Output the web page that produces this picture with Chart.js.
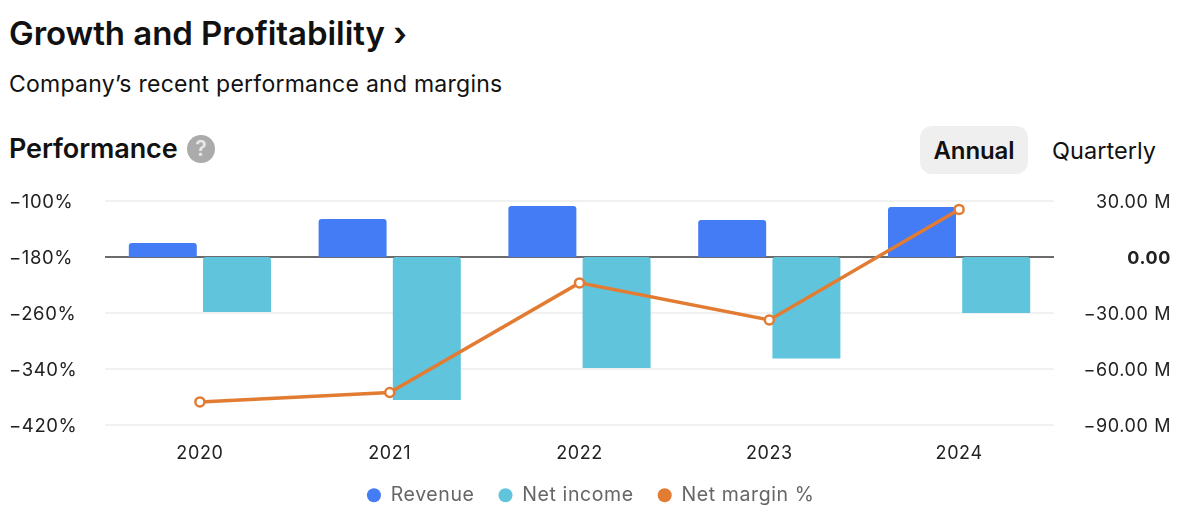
<!DOCTYPE html>
<html>
<head>
<meta charset="utf-8">
<script src="https://cdn.jsdelivr.net/npm/chart.js@4"></script>
<style>
    html, body { margin: 0; padding: 0; background: #fff; width: 1200px; height: 514px; overflow: hidden; font-family: Inter, "Noto Sans", sans-serif; color: #111; }
    .txt { position: absolute; white-space: nowrap; }
    #title { left: 9px; top: 12px; font-size: 33px; line-height: 42px; font-weight: 600; letter-spacing: -0.05px; }
    #subtitle { left: 9px; top: 70px; font-size: 23px; line-height: 28px; font-weight: 400; letter-spacing: 0.25px; }
    #perf { left: 9px; top: 132px; font-size: 27px; line-height: 34px; font-weight: 600; letter-spacing: -0.1px; }
    #help { left: 187px; top: 135px; width: 28px; height: 28px; border-radius: 50%; background: #ababab; color: #e8e8e8; font-size: 21px; font-weight: 600; line-height: 28px; text-align: center; }
    #annual { left: 920px; top: 126px; width: 108px; height: 48px; border-radius: 12px; background: #efefef; font-size: 24px; font-weight: 600; line-height: 50px; text-align: center; letter-spacing: -0.1px; }
    #quarterly { left: 1052px; top: 126px; font-size: 23.5px; line-height: 50px; letter-spacing: 0.05px; }
    #wrap { position: absolute; left: 0; top: 185px; width: 1200px; height: 329px; }
    canvas { display: block; }
</style>
</head>
<body>
<div class="txt" id="title">Growth and Profitability ›</div>
<div class="txt" id="subtitle">Company’s recent performance and margins</div>
<div class="txt" id="perf">Performance</div>
<div class="txt" id="help">?</div>
<div class="txt" id="annual">Annual</div>
<div class="txt" id="quarterly">Quarterly</div>
<div id="wrap"><canvas id="chart" width="1200" height="332"></canvas></div>
<script>
const years = ["2020", "2021", "2022", "2023", "2024"];
const revenue = [7.5, 20.4, 27.3, 19.8, 26.8];
const netIncome = [-29.5, -76.6, -59.5, -54.4, -30];
const netMargin = [-387, -373.6, -217, -270, -112];

const marginTicks = [-420, -340, -260, -180, -100];
const marginLabels = ["−420%", "−340%", "−260%", "−180%", "−100%"];
const moneyTicks = [-90, -60, -30, 0, 30];
const moneyLabels = ["−90.00 M", "−60.00 M", "−30.00 M", "0.00", "30.00 M"];

const fontName = 'Inter';

// small nudges the options don't offer: wider label spacing, legend and tick label offsets
const nudges = {
    id: 'nudges',
    afterLayout(chart) {
        chart.legend.left -= 8;
        chart.legend.right -= 8;
        chart.legend.top -= 2;
        chart.legend.bottom -= 2;
    },
    beforeDraw(chart) {
        chart.ctx.letterSpacing = '0.6px';
        const shifts = { x: 1, yLeft: 1, yRight: 2 };
        Object.keys(shifts).forEach(id => {
            chart.scales[id].getLabelItems().forEach(item => {
                item.options.translation[1] += shifts[id];
            });
        });
    }
};

new Chart(document.getElementById('chart').getContext('2d'), {
    type: 'bar',
    plugins: [nudges],
    data: {
        labels: years,
        datasets: [{
            type: 'line',
            label: 'Net margin %',
            data: netMargin,
            yAxisID: 'yLeft',
            borderColor: '#e27c33',
            backgroundColor: '#ffffff',
            borderWidth: 3.5,
            pointRadius: 4.5,
            pointBorderWidth: 2.5,
            pointBorderColor: '#e27c33',
            pointBackgroundColor: '#ffffff',
            tension: 0,
            order: 0
        }, {
            label: 'Revenue',
            data: revenue,
            yAxisID: 'yRight',
            backgroundColor: '#447cf6',
            borderRadius: 3,
            borderSkipped: 'bottom',
            categoryPercentage: 0.782,
            barPercentage: 0.916,
            order: 1
        }, {
            label: 'Net income',
            data: netIncome,
            yAxisID: 'yRight',
            backgroundColor: '#5fc4dc',
            borderRadius: 3,
            borderSkipped: 'top',
            categoryPercentage: 0.782,
            barPercentage: 0.916,
            order: 1
        }]
    },
    options: {
        responsive: false,
        animation: false,
        devicePixelRatio: 1,
        layout: { padding: { left: 9, right: 29, top: 16, bottom: 0 } },
        plugins: {
            tooltip: { enabled: false },
            legend: {
                position: 'bottom',
                labels: {
                    usePointStyle: true,
                    pointStyle: 'circle',
                    boxHeight: 10,
                    pointStyleWidth: 14,
                    padding: 24,
                    color: '#666666',
                    font: { family: fontName, size: 19.5 },
                    // legend order is revenue, income, margin and all are solid dots
                    generateLabels: function (chart) {
                        const colors = { 'Revenue': '#447cf6', 'Net income': '#5fc4dc', 'Net margin %': '#e27c33' };
                        return ['Revenue', 'Net income', 'Net margin %'].map(name => ({
                            text: name,
                            fontColor: '#666666',
                            fillStyle: colors[name],
                            strokeStyle: colors[name],
                            lineWidth: 0,
                            pointStyle: 'circle'
                        }));
                    }
                }
            }
        },
        scales: {
            x: {
                offset: true,
                grid: { display: false },
                border: { display: false },
                afterFit: axis => { axis.height = 38.5; },
                ticks: {
                    color: '#222222',
                    padding: 9,
                    font: { family: fontName, size: 18 },
                    maxRotation: 0
                }
            },
            yLeft: {
                position: 'left',
                min: -420,
                max: -100,
                afterBuildTicks: axis => { axis.ticks = marginTicks.map(v => ({ value: v })); },
                afterFit: axis => { axis.width = 96; },
                border: { display: false },
                grid: {
                    drawTicks: false,
                    lineWidth: 2,
                    color: ctx => ctx.tick.value === -180 ? '#6b6b6b' : '#f1f1f1'
                },
                ticks: {
                    crossAlign: 'far',
                    color: '#222222',
                    font: { family: fontName, size: 18.5 },
                    callback: value => marginLabels[marginTicks.indexOf(value)]
                }
            },
            yRight: {
                position: 'right',
                min: -90,
                max: 30,
                afterBuildTicks: axis => { axis.ticks = moneyTicks.map(v => ({ value: v })); },
                afterFit: axis => { axis.width = 117; },
                border: { display: false },
                grid: { display: false, drawTicks: false },
                ticks: {
                    crossAlign: 'far',
                    color: '#222222',
                    font: ctx => ({ family: fontName, size: 18, weight: ctx.tick && ctx.tick.value === 0 ? '700' : '400' }),
                    callback: value => moneyLabels[moneyTicks.indexOf(value)]
                }
            }
        }
    }
});
</script>
</body>
</html>
